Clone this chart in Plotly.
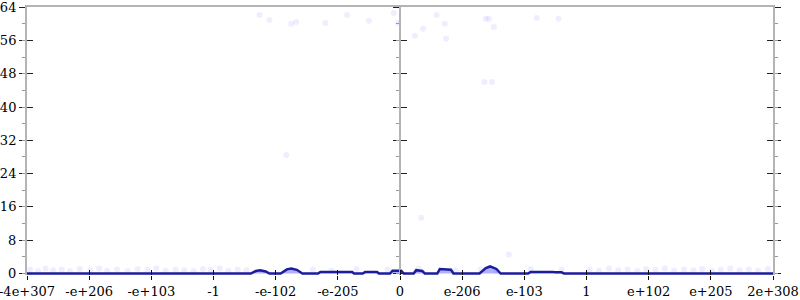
import plotly.graph_objects as go

# x positions are on an evenly spaced "order of magnitude" scale (-6 .. 6)
tick_vals = [-6, -5, -4, -3, -2, -1, 0, 1, 2, 3, 4, 5, 6]
tick_text = ["-4e+307", "-e+206", "-e+103", "-1", "-e-102", "-e-205", "0",
             "e-206", "e-103", "1", "e+102", "e+205", "2e+308"]
y_ticks = [0, 8, 16, 24, 32, 40, 48, 56, 64]

# histogram outline (density line near zero)
hist_x = [-6.0, -2.40, -2.32, -2.25, -2.16, -2.10, -1.92, -1.82, -1.75, -1.66, -1.57,
          -1.32, -1.28, -0.77, -0.74, -0.60, -0.56, -0.37, -0.34, -0.16, -0.12, 0.02,
          0.06, 0.22, 0.26, 0.36, 0.40, 0.60, 0.64, 0.82, 0.86, 1.28, 1.38, 1.45,
          1.55, 1.62, 2.06, 2.10, 2.45, 2.50, 2.60, 2.64, 6.0]
hist_y = [0.0, 0.0, 0.6, 0.8, 0.5, 0.0, 0.0, 1.0, 1.2, 0.9, 0.0,
          0.0, 0.4, 0.4, 0.0, 0.0, 0.4, 0.4, 0.0, 0.0, 0.7, 0.7,
          0.0, 0.0, 0.8, 0.6, 0.0, 0.0, 1.1, 0.9, 0.0, 0.0, 1.3, 1.7,
          1.1, 0.0, 0.0, 0.4, 0.4, 0.3, 0.3, 0.0, 0.0]

# faint scattered samples
dots_x = [-5.95, -5.82, -5.70, -5.58, -5.44, -5.31, -5.15, -4.98, -4.84, -4.71, -4.55,
          -4.38, -4.22, -4.06, -3.92, -3.77, -3.61, -3.47, -3.32, -3.17, -3.05, -2.90,
          -2.76, -2.61, -2.47, -1.40, -1.10, -0.70, -0.20, 0.30, 0.90, 1.30, 1.55,
          2.10, 2.60, 3.05, 3.20, 3.36, 3.51, 3.66, 3.82, 3.96, 4.11, 4.26, 4.41,
          4.57, 4.72, 4.86, 5.02, 5.16, 5.31, 5.46, 5.61, 5.76, 5.92,
          -2.26, -2.10, -1.75, -1.67, -1.20, -0.85, -0.50, -0.10, -0.03, 0.59, 0.72,
          0.37, 0.24, 0.74, 1.38, 1.43, 1.51, 2.20, 2.55, 1.36, 1.48, -1.83, 0.34, 1.75]
dots_y = [1.0, 0.6, 1.2, 0.8, 1.0, 0.6, 1.1, 0.8, 1.2, 0.7, 1.0,
          0.6, 1.1, 0.9, 1.2, 0.7, 1.0, 0.8, 0.6, 1.1, 0.9, 1.2,
          0.7, 1.0, 0.8, 1.0, 0.7, 1.1, 0.9, 1.2, 0.8, 1.0, 0.7,
          1.1, 0.9, 1.0, 0.7, 1.2, 0.8, 1.0, 0.6, 1.1, 0.9, 1.2, 0.7,
          1.0, 0.8, 1.1, 0.6, 1.0, 1.2, 0.8, 1.0, 0.7, 1.1,
          62.1, 60.9, 60.0, 60.4, 60.2, 62.1, 60.7, 62.6, 60.2, 62.1, 60.0,
          58.8, 57.1, 56.4, 61.2, 61.2, 59.2, 61.4, 61.2, 46.0, 46.0, 28.5, 13.4, 4.6]

FONT = "DejaVu Serif"
AX_GRAY = "#b4b4b4"
TICK = "#111111"

fig = go.Figure()
fig.add_trace(go.Scatter(x=dots_x, y=dots_y, mode="markers",
                         marker=dict(size=6, color="rgba(120,120,255,0.13)", line=dict(width=0)),
                         hoverinfo="skip", showlegend=False, cliponaxis=False))
fig.add_trace(go.Scatter(x=hist_x, y=hist_y, mode="lines", fill="tozeroy",
                         fillcolor="rgba(60,60,255,0.4)",
                         line=dict(color="#1c1c9c", width=2.5), showlegend=False))

yr = [-0.35, 64.02]
common_y = dict(range=yr, tickvals=y_ticks, showgrid=False, zeroline=False,
                showline=True, linecolor=AX_GRAY, linewidth=2, automargin=False,
                ticklen=6, tickwidth=1, tickcolor="#222222", layer="above traces",
                minor=dict(dtick=4, tick0=0, ticklen=3, tickcolor="#999999", tickwidth=1))
common_x = dict(range=[-6, 6], tickvals=tick_vals, showgrid=False, zeroline=False,
                showline=False, automargin=False, tickcolor=TICK, tickwidth=1,
                layer="above traces", type="linear")

fig.update_layout(
    width=800, height=300,
    margin=dict(l=27, r=27, t=7, b=25),
    paper_bgcolor="white", plot_bgcolor="white",
    font=dict(family=FONT, size=13, color="black"),
    xaxis=dict(**common_x, ticktext=tick_text, ticks="outside", ticklen=4,
               ticklabeloverflow="allow", ticklabelstandoff=0),
    xaxis2=dict(**common_x, overlaying="x", showticklabels=False, ticks="inside",
                ticklen=5, anchor="y"),
    xaxis3=dict(range=[-6, 6], overlaying="x", side="top", showticklabels=False,
                showgrid=False, zeroline=False, showline=True, linecolor=AX_GRAY,
                linewidth=2, ticks="", anchor="y", automargin=False),
    yaxis=dict(**common_y, ticks="outside", showticklabels=True, ticklabelstandoff=0,
               ticklabeloverflow="allow"),
    yaxis2=dict(**common_y, overlaying="y", anchor="x", ticks="inside", showticklabels=False),
    yaxis3=dict(**common_y, overlaying="y", anchor="free", position=0.5,
                ticks="outside", showticklabels=False),
    yaxis4=dict(**common_y, overlaying="y", anchor="free", position=0.5,
                ticks="inside", showticklabels=False),
    yaxis5=dict(**common_y, overlaying="y", anchor="x", side="right",
                ticks="outside", showticklabels=False),
    yaxis6=dict(**common_y, overlaying="y", anchor="x", side="right",
                ticks="inside", showticklabels=False),
)

# empty helper traces so the overlay axes are drawn
for xa, ya in [("x2", "y"), ("x3", "y"), ("x", "y2"), ("x", "y3"),
               ("x", "y4"), ("x", "y5"), ("x", "y6")]:
    fig.add_trace(go.Scatter(x=[None], y=[None], xaxis=xa, yaxis=ya,
                             showlegend=False, hoverinfo="skip"))

fig.write_html("out.html")
